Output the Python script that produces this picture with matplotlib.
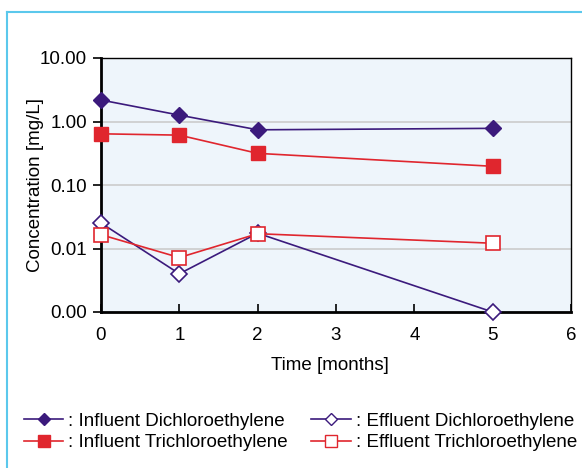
import matplotlib.pyplot as plt
from matplotlib.lines import Line2D
from matplotlib.ticker import FixedLocator, FuncFormatter, NullLocator

plt.rcParams['font.family'] = ['Liberation Sans', 'DejaVu Sans']

months = [0, 1, 2, 5]
influent_dce = [2.18, 1.26, 0.74, 0.78]
influent_tce = [0.64, 0.61, 0.315, 0.197]
effluent_dce = [0.0252, 0.0040, 0.0174, 0.001]
effluent_tce = [0.0165, 0.0072, 0.0171, 0.0121]

y_ticks = [0.001, 0.01, 0.1, 1, 10]
x_ticks = [0, 1, 2, 3, 4, 5, 6]

purple = '#3b1a7c'
red = '#e0262e'

fig = plt.figure(figsize=(5.82, 4.68), dpi=100)
ax = fig.add_axes([101 / 582, 1 - 312 / 468, 470 / 582, 254 / 468])
ax.set_facecolor('#eef5fb')

ax.plot(months, influent_dce, color=purple, lw=1.2, marker='D', ms=8.5,
        mfc=purple, mec=purple, zorder=4, clip_on=False)
ax.plot(months, influent_tce, color=red, lw=1.2, marker='s', ms=10.5,
        mfc=red, mec=red, zorder=4, clip_on=False)
ax.plot(months, effluent_dce, color=purple, lw=1.2, marker='D', ms=8.5,
        mfc='white', mec=purple, mew=1.2, zorder=4, clip_on=False)
ax.plot(months, effluent_tce, color=red, lw=1.2, marker='s', ms=10.5,
        mfc='white', mec=red, mew=1.2, zorder=4, clip_on=False)

ax.set_yscale('log')
ax.set_ylim(0.001, 10)
ax.set_xlim(0, 6)
ax.yaxis.set_major_locator(FixedLocator(y_ticks))
ax.yaxis.set_minor_locator(NullLocator())
ax.yaxis.set_major_formatter(FuncFormatter(lambda v, p: '%.2f' % v))
ax.set_xticks(x_ticks)

for v in y_ticks[1:-1]:
    ax.axhline(v, color='#cccccc', lw=1.2, zorder=1)

ax.tick_params(axis='y', direction='out', length=6, width=1.2, labelsize=13.5, pad=4)
ax.tick_params(axis='x', direction='in', length=6, width=1.2, labelsize=13.5, pad=11)

for side in ['left', 'bottom']:
    ax.spines[side].set_linewidth(2)
for side in ['top', 'right']:
    ax.spines[side].set_linewidth(1)

ax.set_ylabel('Concentration [mg/L]', fontsize=13.5, labelpad=-3)
ax.set_xlabel('Time [months]', fontsize=13.5)
ax.xaxis.set_label_coords(0.487, -0.176, transform=ax.transAxes)

handles = [
    Line2D([], [], color=purple, lw=1.2, marker='D', ms=6.5, mfc=purple, mec=purple),
    Line2D([], [], color=red, lw=1.2, marker='s', ms=8, mfc=red, mec=red),
    Line2D([], [], color=purple, lw=1.2, marker='D', ms=6.5, mfc='white', mec=purple),
    Line2D([], [], color=red, lw=1.2, marker='s', ms=8, mfc='white', mec=red),
]
labels = [': Influent Dichloroethylene', ': Influent Trichloroethylene',
          ': Effluent Dichloroethylene', ': Effluent Trichloroethylene']
fig.legend(handles, labels, ncol=2, frameon=False, fontsize=13.5,
           loc='center left', bbox_to_anchor=(24 / 582, 1 - 432 / 468),
           handlelength=2.1, handletextpad=0.27, columnspacing=1.23,
           labelspacing=0.22, borderaxespad=0, borderpad=0)

# cyan frame around the panel (top and left edges)
fig.add_artist(Line2D([7 / 582, 1], [1 - 12 / 468, 1 - 12 / 468], color='#5bc8ec', lw=1.5))
fig.add_artist(Line2D([7 / 582, 7 / 582], [0, 1 - 12 / 468], color='#5bc8ec', lw=1.5))

fig.savefig('out.png', dpi=100)
